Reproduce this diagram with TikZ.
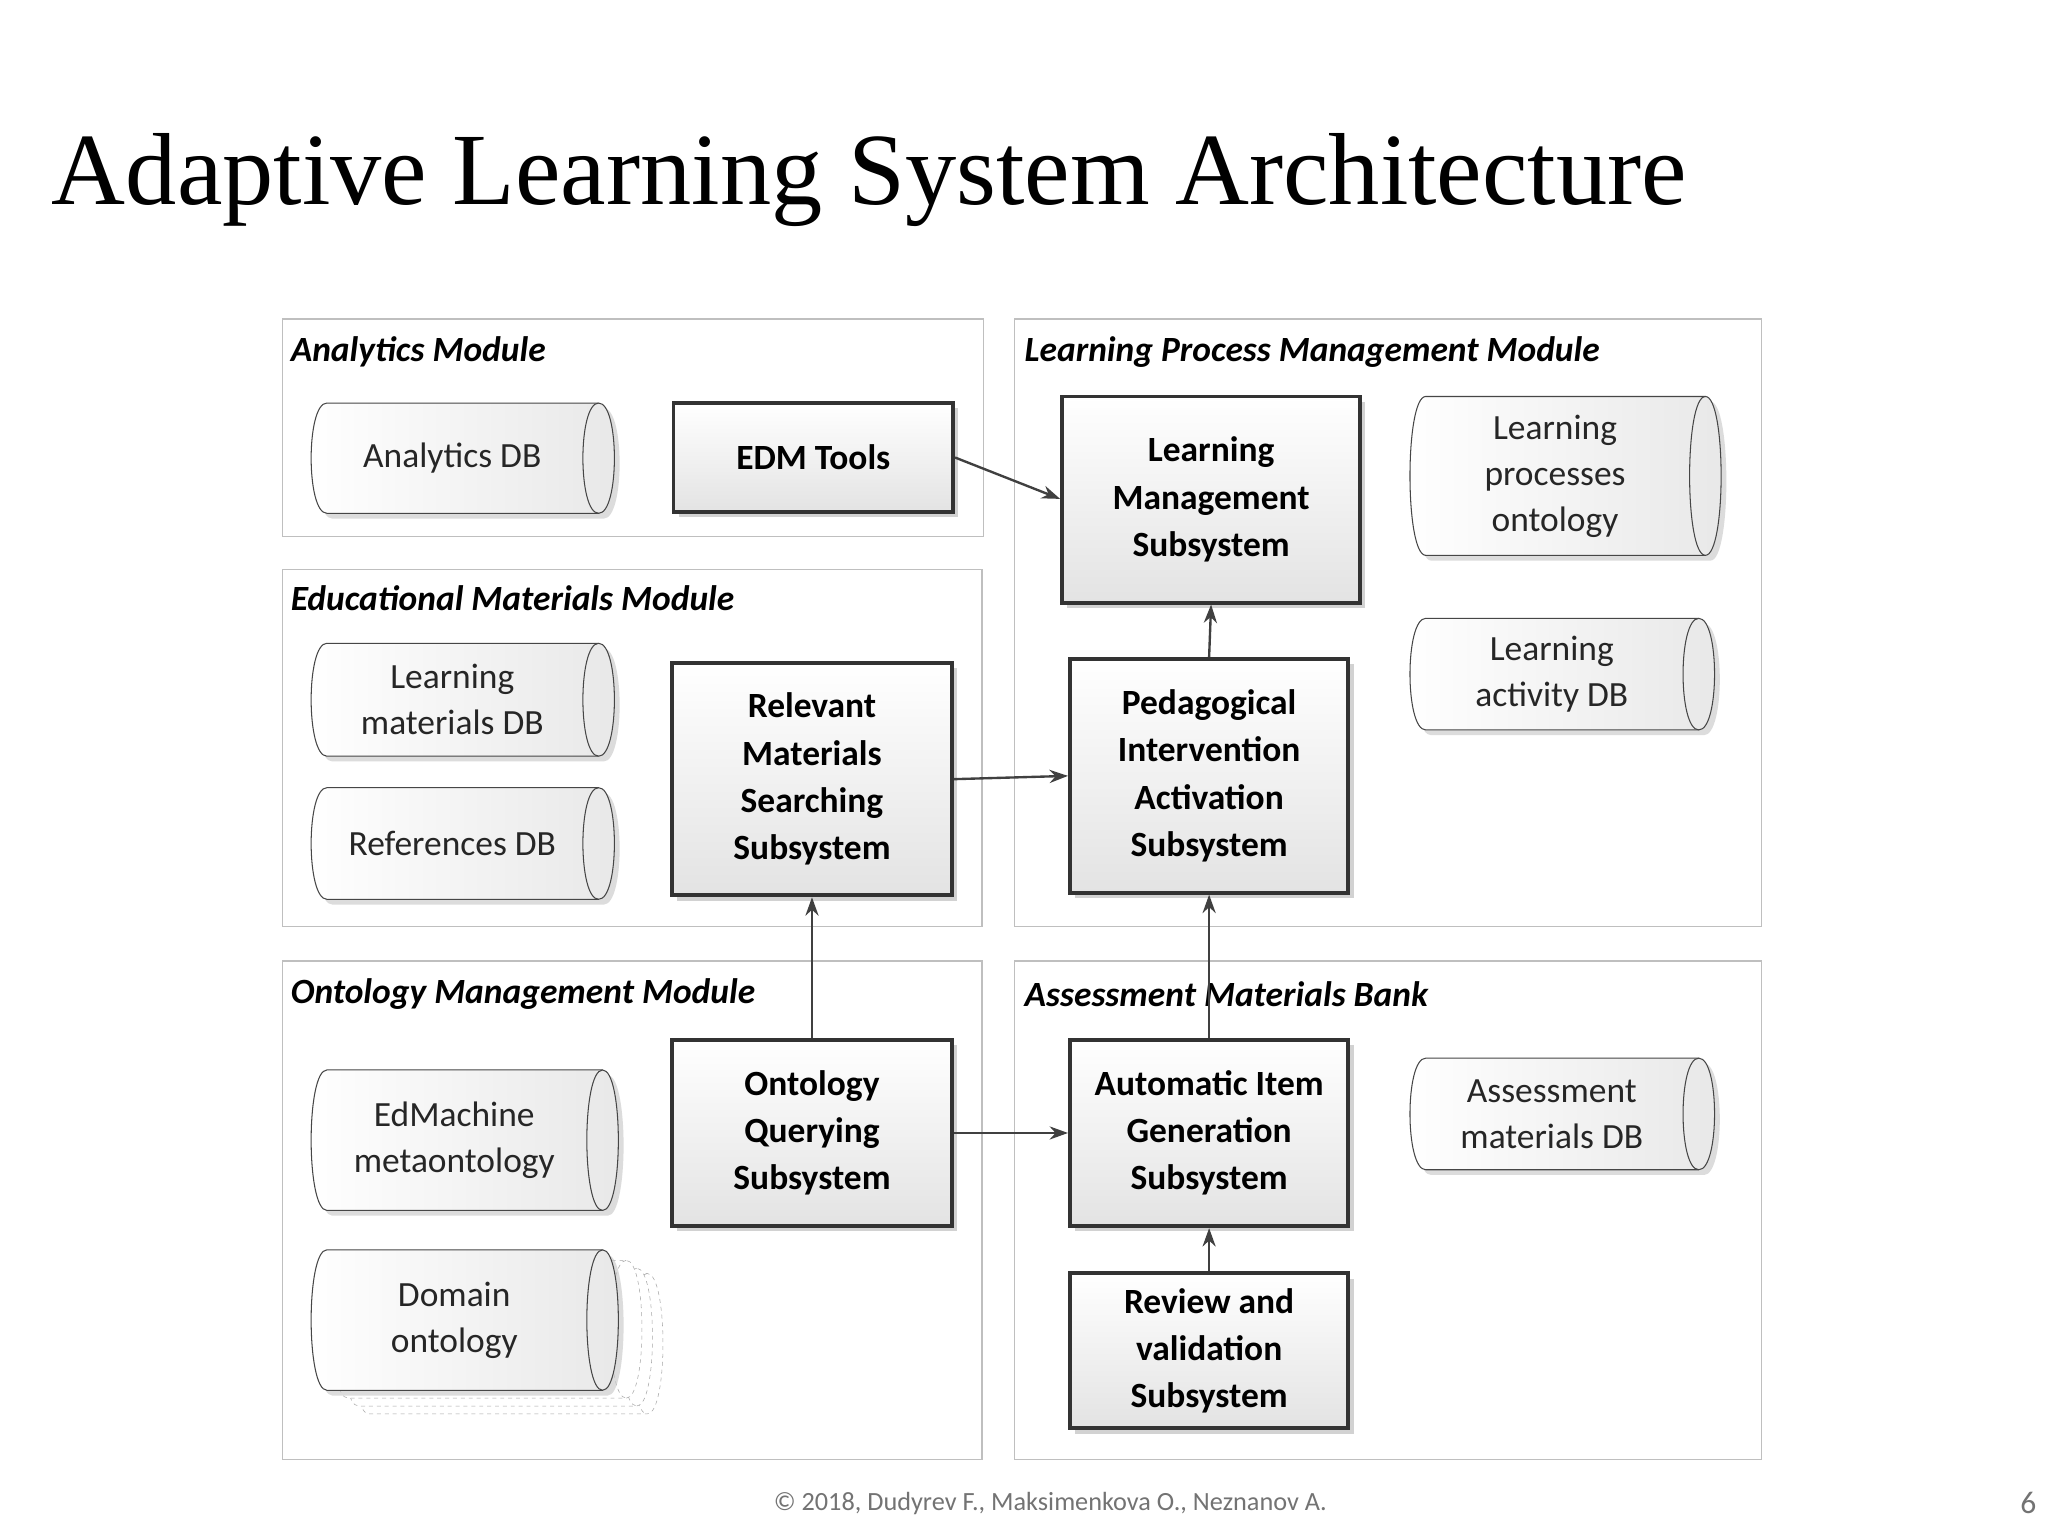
\documentclass[tikz,border=0pt]{standalone}
\usepackage{fontspec}
\setmainfont{Carlito}
\newfontfamily\titlefont{Liberation Serif}
\usetikzlibrary{shadows,arrows.meta}
\newcommand\cyl[6]{%
 \fill[gray!45,opacity=.6] (#1+12+4,#2+4) .. controls (#1-4+4,#2+4) and (#1-4+4,#4+4) .. (#1+12+4,#4+4) -- (#3-12+4,#4+4) .. controls (#3+4+4,#4+4) and (#3+4+4,#2+4) .. (#3-12+4,#2+4) -- cycle;
 \draw[cylline,left color=white,right color=gray!18] (#1+12,#2) .. controls (#1-4,#2) and (#1-4,#4) .. (#1+12,#4) -- (#3-12,#4) .. controls (#3+4,#4) and (#3+4,#2) .. (#3-12,#2) -- cycle;
 \draw[cylline] (#3-12,#2) .. controls (#3-28,#2) and (#3-28,#4) .. (#3-12,#4);
 \node[cyltext] (#5) at ({(#1+#3)/2-8},{(#2+#4)/2}) {#6};}
\newcommand\dcyl[4]{%
 \draw[gray!70,dashed,fill=white] (#1+12,#2) .. controls (#1-4,#2) and (#1-4,#4) .. (#1+12,#4) -- (#3-12,#4) .. controls (#3+4,#4) and (#3+4,#2) .. (#3-12,#2) -- cycle;
 \draw[gray!70,dashed] (#3-12,#2) .. controls (#3-28,#2) and (#3-28,#4) .. (#3-12,#4);}
\tikzset{
 cylline/.style={draw=gray!55!black,line width=0.8pt},
 cyltext/.style={align=center,font=\fontsize{27}{35}\selectfont,text=black!85},
 sysbox/.style={draw=black!80,line width=3pt,top color=white,bottom color=gray!22,align=center,font=\fontsize{27}{36}\selectfont\bfseries,drop shadow={shadow xshift=4pt,shadow yshift=-4pt,opacity=.35},inner sep=0pt},
 modframe/.style={draw=gray!50,line width=0.8pt},
 modtitle/.style={anchor=west,font=\fontsize{27}{32}\selectfont\bfseries\itshape},
 arr/.style={-{Stealth[length=14pt,width=10pt]},line width=1.8pt,draw=black!75},
}
\begin{document}
\begin{tikzpicture}[x=1pt,y=-1pt]
\useasboundingbox[fill=white] (0,0) rectangle (1560,1170);
\node[anchor=west,font=\titlefont\fontsize{78}{80}\selectfont] (title) at (36,137) {Adaptive Learning System Architecture};
% frames
\draw[modframe] (215,243) rectangle (749,409);
\draw[modframe] (215,434) rectangle (748,706);
\draw[modframe] (215,732) rectangle (748,1112);
\draw[modframe] (773,243) rectangle (1342,706);
\draw[modframe] (773,732) rectangle (1342,1112);
\node[modtitle] (t1) at (218,268) {Analytics Module};
\node[modtitle] (t2) at (218,456) {Educational Materials Module};
\node[modtitle] (t3) at (218,757) {Ontology Management Module};
\node[modtitle] (t4) at (777,268) {Learning Process Management Module};
\node[modtitle] (t5) at (777,757) {Assessment Materials Bank};
% cylinders
\cyl{237}{307}{468}{391}{adb}{Analytics DB}
\cyl{1074}{302}{1311}{423}{lpo}{Learning\\processes\\ontology}
\cyl{1074}{471}{1306}{556}{ladb}{Learning\\activity DB}
\cyl{237}{490}{468}{576}{lmdb}{Learning\\materials DB}
\cyl{237}{600}{468}{685}{rdb}{References DB}
\cyl{237}{815}{471}{922}{edm}{EdMachine\\metaontology}
\dcyl{269}{970}{505}{1077}
\dcyl{261}{966}{497}{1071}
\dcyl{253}{960}{489}{1065}
\cyl{237}{952}{471}{1059}{dom}{Domain\\ontology}
\cyl{1074}{806}{1306}{891}{amdb}{Assessment\\materials DB}
% boxes
\node[sysbox,minimum width=213pt,minimum height=83pt] (edmt) at (619.5,348.5) {EDM Tools};
\node[sysbox,minimum width=227pt,minimum height=157pt] (lms) at (922.5,380.5) {Learning\\Management\\Subsystem};
\node[sysbox,minimum width=213pt,minimum height=177pt] (rms) at (618.5,593.5) {Relevant\\Materials\\Searching\\Subsystem};
\node[sysbox,minimum width=212pt,minimum height=178pt] (pia) at (921,591) {Pedagogical\\Intervention\\Activation\\Subsystem};
\node[sysbox,minimum width=213pt,minimum height=142pt] (oqs) at (618.5,863) {Ontology\\Querying\\Subsystem};
\node[sysbox,minimum width=212pt,minimum height=142pt] (aig) at (921,863) {Automatic Item\\Generation\\Subsystem};
\node[sysbox,minimum width=212pt,minimum height=118pt] (rvs) at (921,1029) {Review and\\validation\\Subsystem};
% arrows
\draw[arr] (edmt.east) -- (lms.west |- 0,380);
\draw[arr] (pia.north) -- (lms.south);
\draw[arr] (rms.east) -- (pia.west);
\draw[arr] (oqs.north) -- (rms.south);
\draw[arr] (oqs.east) -- (aig.west);
\draw[arr] (aig.north) -- (pia.south);
\draw[arr] (rvs.north) -- (aig.south);
% footer
\node[font=\fontsize{20}{24}\selectfont,text=gray!90!black] (foot) at (800,1145) {© 2018, Dudyrev F., Maksimenkova O., Neznanov A.};
\node[font=\fontsize{24}{28}\selectfont,text=gray!90!black] (page) at (1545,1145) {6};
\end{tikzpicture}
\end{document}
